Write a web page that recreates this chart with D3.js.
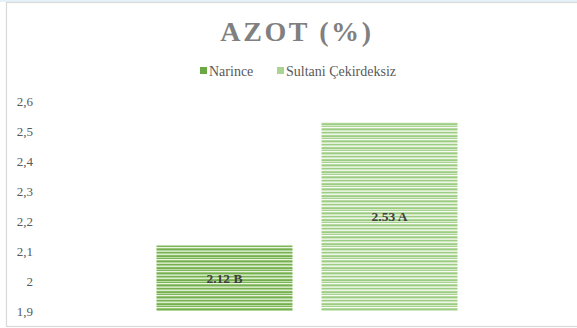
<!DOCTYPE html>
<html>
<head>
<meta charset="utf-8">
<script src="https://cdn.jsdelivr.net/npm/d3@7"></script>
<style>
  html, body { margin: 0; padding: 0; background: #fff; }
  svg { display: block; }
  .serif { font-family: "Liberation Serif", "Times New Roman", Times, "DejaVu Serif", serif; }
</style>
</head>
<body>
<svg id="chart" width="577" height="328"></svg>
<script>
// Nitrogen content (%) by grape variety
const series = ["Narince", "Sultani Çekirdeksiz"];
const values = [2.12, 2.53];
const groupLetters = ["B", "A"];
const yTicks = [1.9, 2.0, 2.1, 2.2, 2.3, 2.4, 2.5, 2.6];
const titleText = "AZOT (%)";

const svg = d3.select("#chart");
const W = 577, H = 328;

// faint blue strip along the very top edge
svg.append("rect").attr("x", 0).attr("y", 0).attr("width", W).attr("height", 2)
  .attr("fill", "#e4f1f8");

// chart frame
svg.append("rect")
  .attr("x", 6.5).attr("y", 2.5).attr("width", W + 10).attr("height", 324)
  .attr("fill", "#fff").attr("stroke", "#d9d9d9").attr("stroke-width", 1.2);

// striped fills
const defs = svg.append("defs");
function stripePattern(id, base, rows) {
  const h = rows.length;
  const p = defs.append("pattern").attr("id", id)
    .attr("patternUnits", "userSpaceOnUse").attr("width", 8).attr("height", h);
  p.append("rect").attr("width", 8).attr("height", h).attr("fill", base);
  rows.forEach((c, i) => {
    if (c) p.append("rect").attr("y", i).attr("width", 8).attr("height", 1).attr("fill", c);
  });
}
stripePattern("stripeDark", "#95c776",
  ["#74ae50", "#acd390", "#dbedce", "#88bd64", "#74ae50", "#bcdda5", "#7db558", "#e9f4e1", "#98c877", "#74ae50", "#b1d697", "#d0e7bf"]);
stripePattern("stripeLight", "#bcdea9",
  ["#9dcd84", "#cbe6bc", "#edf6e7", "#acd596", "#9dcd84", "#d6ebca", "#a8d391", "#f7fbf4", "#b7daa2", "#9bcc82", "#d1e9c3", "#e4f2dc"]);
const fills = ["url(#stripeDark)", "url(#stripeLight)"];
const swatch = ["#6aa845", "#abd494"];

// scales
const y = d3.scaleLinear().domain([1.9, 2.6]).range([311, 101]);
const x = d3.scaleBand().domain(series).range([40, 574])
  .paddingInner(0.176).paddingOuter(0.706);

// title
svg.append("text").attr("class", "serif")
  .attr("x", 297).attr("y", 41)
  .attr("text-anchor", "middle")
  .attr("font-weight", "bold")
  .attr("font-size", 28).attr("letter-spacing", 2.6)
  .attr("fill", "#808080")
  .text(titleText);

// legend
const legendX = [200, 277];
const legend = svg.append("g");
series.forEach((s, i) => {
  legend.append("rect").attr("x", legendX[i]).attr("y", 67)
    .attr("width", 7).attr("height", 7).attr("fill", swatch[i]);
  legend.append("text").attr("class", "serif")
    .attr("x", legendX[i] + 9).attr("y", 75.5)
    .attr("font-size", 14).attr("fill", "#595959")
    .text(s);
});

// y axis labels (comma decimal)
const fmt = v => (Math.round(v * 10) / 10).toString().replace(".", ",");
const yAxis = d3.axisLeft(y).tickValues(yTicks).tickFormat(fmt).tickSize(0).tickPadding(0);
const yg = svg.append("g").attr("transform", "translate(33,0)").call(yAxis);
yg.select(".domain").remove();
yg.attr("font-family", null);
yg.selectAll("text").attr("class", "serif")
  .attr("font-size", 13).attr("fill", "#595959");

// bars
svg.append("g").selectAll("rect")
  .data(values).join("rect")
  .attr("x", (d, i) => x(series[i]))
  .attr("width", x.bandwidth())
  .attr("y", d => y(d))
  .attr("height", d => y(1.9) - y(d))
  .attr("fill", (d, i) => fills[i]);

// value labels
svg.append("g").selectAll("text")
  .data(values).join("text").attr("class", "serif")
  .attr("x", (d, i) => x(series[i]) + x.bandwidth() / 2)
  .attr("y", d => (y(d) + y(1.9)) / 2 + 4.5)
  .attr("text-anchor", "middle")
  .attr("font-weight", "bold")
  .attr("font-size", 13.5).attr("fill", "#404040")
  .text((d, i) => d.toFixed(2) + " " + groupLetters[i]);
</script>
</body>
</html>
